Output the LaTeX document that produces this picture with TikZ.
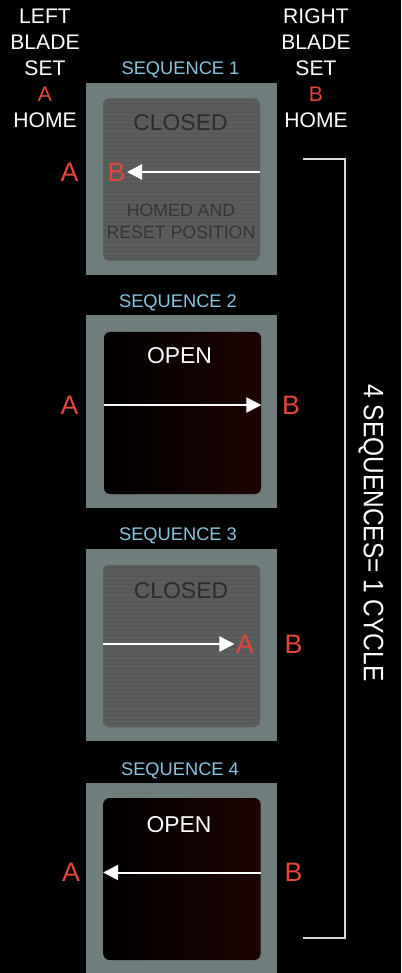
\documentclass[tikz,border=0pt]{standalone}
\usepackage{fontspec}
\setmainfont{Liberation Sans}
\usetikzlibrary{arrows.meta,positioning,patterns}
\definecolor{bladered}{HTML}{E5473A}
\definecolor{seqblue}{HTML}{8CC4DF}
\definecolor{framegray}{HTML}{6F7D7C}
\definecolor{shutgray}{HTML}{5B5C5C}
\definecolor{shutstripe}{HTML}{545555}
\definecolor{shuttext}{HTML}{2A2B2B}
\definecolor{homedtext}{HTML}{333434}
\definecolor{openred}{HTML}{1E0303}
\definecolor{cyclegray}{HTML}{D9D9D9}
\tikzset{
  seqframe/.style={fill=framegray,minimum width=47.75mm,minimum height=48mm,inner sep=0pt},
  shutpanel/.style={fill=shutgray,rounded corners=1.5mm,minimum width=39.25mm,minimum height=40.5mm,inner sep=0pt,
    postaction={pattern=horizontal lines,pattern color=shutstripe}},
  openpanel/.style={rounded corners=1.5mm,minimum width=39.25mm,minimum height=40.5mm,inner sep=0pt,
    left color=black,middle color=black,right color=openred},
  headtext/.style={text=white,align=center,font=\fontsize{15}{18.5}\selectfont},
  seqtitle/.style={text=seqblue,font=\fontsize{13}{15}\selectfont},
  statetext/.style={font=\fontsize{16.3}{19}\selectfont},
  bladetag/.style={text=bladered,inner sep=1pt,font=\fontsize{19}{21}\selectfont},
  travel/.style={-{Triangle[length=3.75mm,width=3.8mm]},line width=0.5mm,white}
}

\begin{document}
\begin{tikzpicture}[x=0.25mm,y=-0.25mm]
\useasboundingbox (0,0) rectangle (401,973);
\fill[black] (0,0) rectangle (401,973);

\node[headtext] (lefthead) at (45,68) {LEFT\\BLADE\\SET\\{\color{bladered}A}\\HOME};
\node[headtext] (righthead) at (316,68) {RIGHT\\BLADE\\SET\\{\color{bladered}B}\\HOME};

% sequence 1
\node[seqtitle] (t1) at (180.5,70) {SEQUENCE 1};
\node[seqframe] (f1) at (181.5,179) {};
\node[shutpanel] (in1) at (181.5,179.5) {};
\node[statetext,text=shuttext] (c1) at (180.5,123) {CLOSED};
\node[text=homedtext,align=center,font=\fontsize{12.6}{15.6}\selectfont] (homed) at (181,221) {HOMED AND\\RESET POSITION};
\node[bladetag] (a1) at (69.5,172) {A};
\node[bladetag] (b1) at (116.5,172) {B};
\draw[travel] (in1.east |- b1) -- (b1.east);

% sequence 2
\node[seqtitle] (t2) at (178,303) {SEQUENCE 2};
\node[seqframe] (f2) at (181.5,411.5) {};
\node[openpanel] (in2) at (182.5,413) {};
\node[statetext,text=white] (o2) at (179.5,356) {OPEN};
\node[bladetag] (a2) at (69.5,405) {A};
\node[bladetag] (b2) at (291,405) {B};
\draw[travel] (in2.west |- a2) -- (in2.east |- a2);

% sequence 3
\node[seqtitle] (t3) at (178,536) {SEQUENCE 3};
\node[seqframe] (f3) at (181.5,644.5) {};
\node[shutpanel] (in3) at (181.5,646) {};
\node[statetext,text=shuttext] (c3) at (181,591) {CLOSED};
\node[bladetag] (a3) at (245,644) {A};
\node[bladetag] (b3) at (293.5,644) {B};
\draw[travel] (in3.west |- a3) -- (a3.west);

% sequence 4
\node[seqtitle] (t4) at (180,770.5) {SEQUENCE 4};
\node[seqframe] (f4) at (181.5,878.5) {};
\node[openpanel] (in4) at (182,879) {};
\node[statetext,text=white] (o4) at (179,825) {OPEN};
\node[bladetag] (a4) at (71,872.5) {A};
\node[bladetag] (b4) at (293.5,872.5) {B};
\draw[travel] (in4.east |- b4) -- (in4.west |- b4);

% cycle bracket
\coordinate (ctop) at (303,159);
\coordinate (cbot) at (303,938);
\draw[cyclegray,line width=0.5mm] (ctop) -- ++(42,0) |- (cbot);
\node[rotate=-90,text=white,font=\fontsize{20}{22}\selectfont] (cycle) at (371,533) {\scalebox{0.87}[1]{4 SEQUENCES= 1 CYCLE}};
\end{tikzpicture}
\end{document}
